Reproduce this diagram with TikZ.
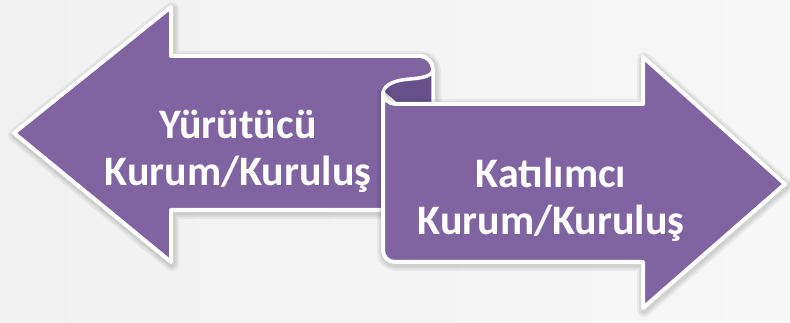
\documentclass[tikz,border=0pt]{standalone}
\usepackage{fontspec}
\setmainfont{Carlito}
\definecolor{purp}{HTML}{8064A2}
\definecolor{purpdark}{HTML}{66518B}
\definecolor{bgl}{HTML}{F1F1F1}
\definecolor{bgr}{HTML}{F7F7F7}
\begin{document}
\begin{tikzpicture}[x=1pt,y=-1pt,line join=round,
  ribbon/.style={fill=purp,draw=white,line width=4pt},
  innerroll/.style={fill=purpdark,draw=white,line width=3.5pt},
  lbl/.style={text=white,font=\bfseries\fontsize{42}{47}\selectfont,align=center,inner sep=0pt},
  softshade/.style={draw=black,opacity=0.05,fill=none}]
\shade[left color=bgl,right color=bgr] (0,0) rectangle (790,323);
\useasboundingbox (0,0) rectangle (790,323);
\def\leftpath{(14,133) -- (171,7) -- (171,56) -- (420,56) .. controls (427,56) and (433,62) .. (433,69) -- (433,210) -- (171,210) -- (171,262) -- cycle}
\def\rollpath{(383,93) .. controls (384,84) and (396,80) .. (410,79) .. controls (423,78) and (433,76) .. (433,69) -- (433,104) -- (396,104) -- cycle}
\def\rightpath{(383,92) -- (383,250) .. controls (383,257) and (388,262) .. (395,262) -- (643,262) -- (643,308) -- (785,184) -- (643,57) -- (643,104) -- (396,104) .. controls (389,104) and (383,99) .. (383,92) -- cycle}
% left arrow
\foreach \w in {14,10,7} \draw[softshade,line width=\w pt,shift={(1,2)}] \leftpath;
\draw[ribbon] \leftpath;
% inner side of the roll
\draw[innerroll] \rollpath;
% right arrow
\foreach \w in {14,10,7} \draw[softshade,line width=\w pt,shift={(1,2)}] \rightpath;
\draw[ribbon] \rightpath;
% labels
\node[lbl] (yurutucu) at (238,151) {Yürütücü\\Kurum/Kuruluş};
\node[lbl] (katilimci) at (551,200) {Katılımcı\\Kurum/Kuruluş};
\end{tikzpicture}
\end{document}
